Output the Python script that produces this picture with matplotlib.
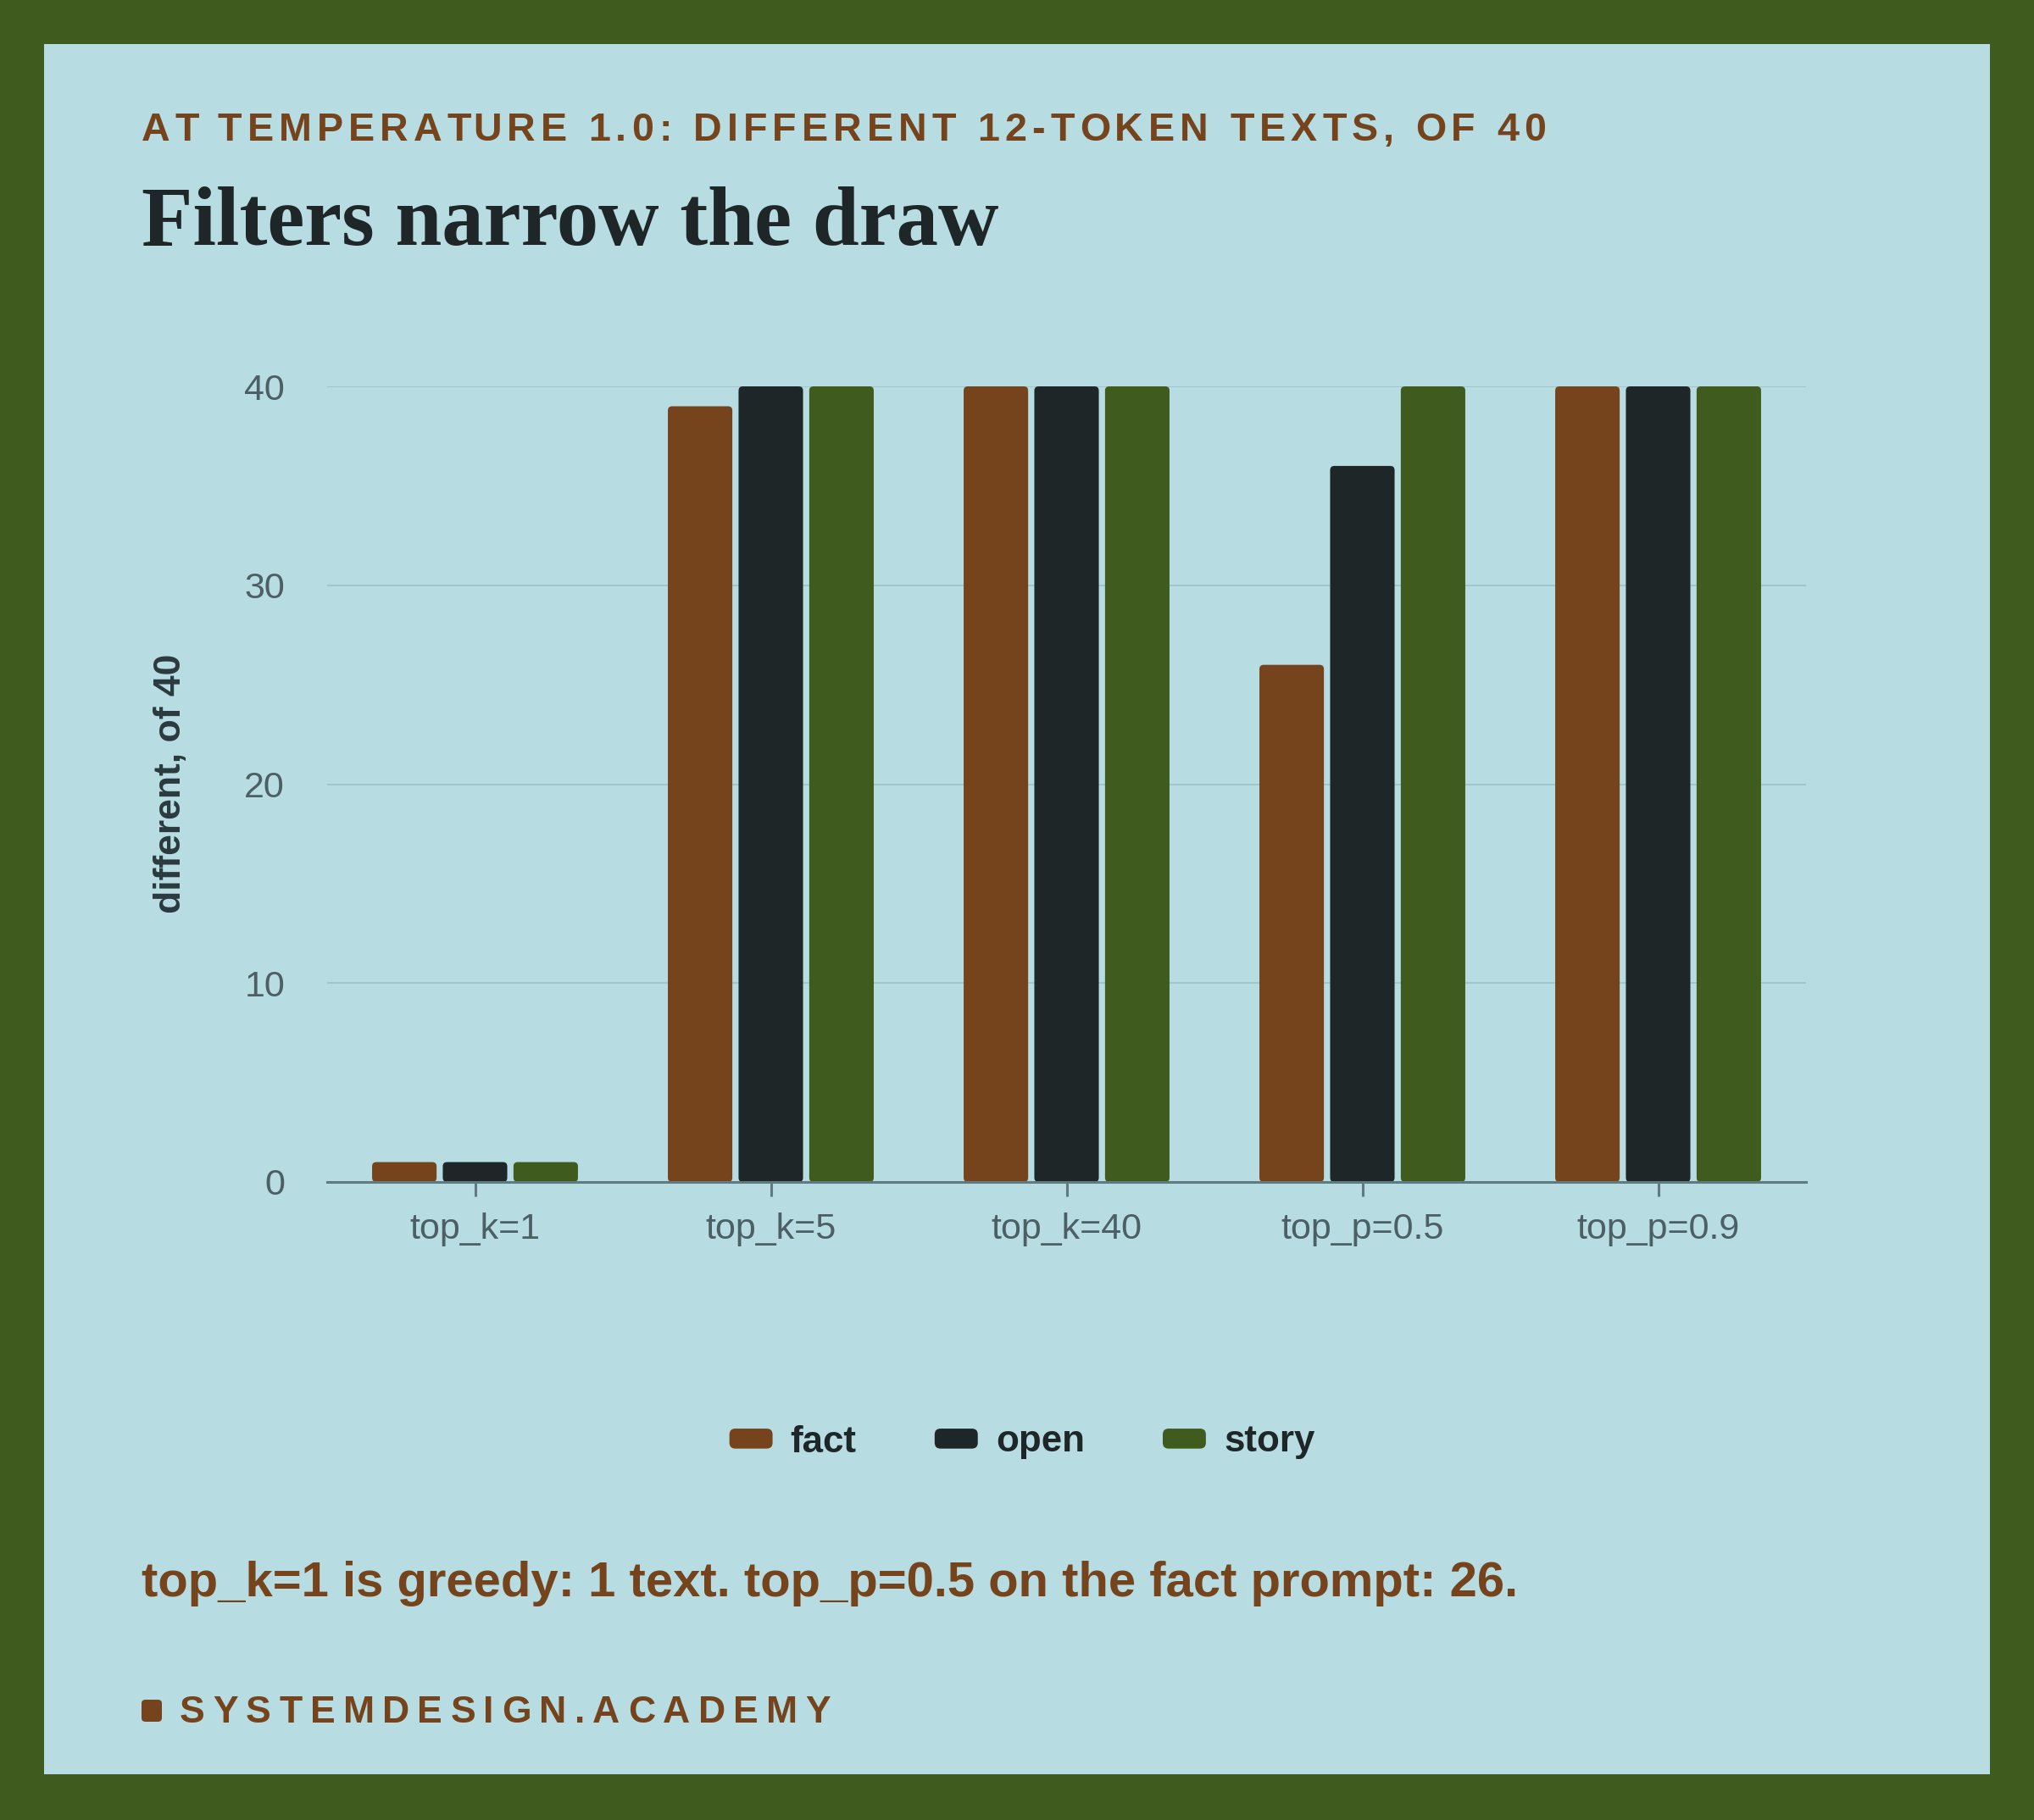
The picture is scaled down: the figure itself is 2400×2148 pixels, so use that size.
import matplotlib
matplotlib.use("Agg")
import matplotlib.pyplot as plt
from matplotlib.patches import FancyBboxPatch, Rectangle
from matplotlib.legend_handler import HandlerPatch
import numpy as np

# ---------------- data ----------------
categories = ["top_k=1", "top_k=5", "top_k=40", "top_p=0.5", "top_p=0.9"]
series_names = ["fact", "open", "story"]
fact_vals = [1, 39, 40, 26, 40]
open_vals = [1, 40, 40, 36, 40]
story_vals = [1, 40, 40, 40, 40]
y_ticks = [0, 10, 20, 30, 40]

subtitle = "AT TEMPERATURE 1.0: DIFFERENT 12-TOKEN TEXTS, OF 40"
title = "Filters narrow the draw"
ylabel = "different, of 40"
footnote = "top_k=1 is greedy: 1 text. top_p=0.5 on the fact prompt: 26."
brand = "SYSTEMDESIGN.ACADEMY"

# ---------------- style ----------------
BORDER = "#3F5B1D"
PANEL = "#B7DCE1"
BROWN = "#76441C"
DARK = "#1F2628"
GREEN = "#3F5B1D"
GRID = "#9BC2C8"
AXIS = "#5F7B81"
TICKC = "#4B5F64"
colors = [BROWN, DARK, GREEN]

W, H, DPI = 2400, 2148, 200
fig = plt.figure(figsize=(W / DPI, H / DPI), dpi=DPI)
fig.patch.set_facecolor(BORDER)

def fx(x):
    return x / W

def fy(y):
    return 1 - y / H

fig.patches.append(Rectangle((fx(52), fy(2094)), fx(2348) - fx(52), fy(52) - fy(2094),
                             transform=fig.transFigure, facecolor=PANEL, edgecolor="none", zorder=-5))

renderer = fig.canvas.get_renderer()

def text_w(s, **kw):
    t = fig.text(0, 0, s, **kw)
    w = t.get_window_extent(renderer).width
    t.remove()
    return w

def fit_size(s, target, size0, **kw):
    w = text_w(s, fontsize=size0, **kw)
    return size0 * target / w

def tracked_text(s, x0, y, target_w, size, **kw):
    bar = text_w("|", fontsize=size, **kw)
    plain = text_w(s, fontsize=size, **kw)
    track = (target_w - plain) / (len(s) - 1)
    for i, ch in enumerate(s):
        if ch == " ":
            continue
        pre = text_w(s[:i] + "|", fontsize=size, **kw) - bar if i > 0 else 0
        fig.text(fx(x0 + pre + i * track), fy(y), ch, fontsize=size, va="baseline", ha="left", **kw)

SANS = "Liberation Sans"
SERIF = "Liberation Serif"

# subtitle (letter-spaced)
tracked_text(subtitle, 167, 166, 1657, 16.8, family=SANS, weight="bold", color=BROWN)

# title
ts = fit_size(title, 1011, 36, family=SERIF, weight="bold")
fig.text(fx(167), fy(289), title, fontsize=ts, family=SERIF, weight="bold", color=DARK,
         va="baseline", ha="left")

# ---------------- axes ----------------
ax = fig.add_axes([fx(386), fy(1395), fx(2131) - fx(386), fy(456) - fy(1395)])
ax.set_facecolor("none")
ax.set_zorder(2)
x = np.arange(len(categories))
bw = 0.218
off = 0.239
ax.set_xlim(-0.5, len(categories) - 0.5)
ax.set_ylim(0, 40)

# px per unit for rounding aspect
px_x = (2131 - 386) / len(categories)
px_y = (1395 - 456) / 40.0
rad_px = 5
all_vals = [fact_vals, open_vals, story_vals]
for si, vals in enumerate(all_vals):
    bars = ax.bar(x + (si - 1) * off, vals, width=bw, color=colors[si], zorder=3)
    for b in bars:
        b.set_visible(False)
        fp = FancyBboxPatch((b.get_x(), b.get_y()), b.get_width(), b.get_height(),
                            boxstyle=f"round,pad=0,rounding_size={rad_px / px_x}",
                            mutation_aspect=px_x / px_y,
                            facecolor=colors[si], edgecolor="none", zorder=3, clip_on=False)
        ax.add_patch(fp)

ax.set_yticks(y_ticks)
ax.set_xticks(x)
ax.set_xticklabels(categories)
for sp in ["top", "right", "left"]:
    ax.spines[sp].set_visible(False)
ax.spines["bottom"].set_color(AXIS)
ax.spines["bottom"].set_linewidth(1.1)
ax.spines["bottom"].set_zorder(4)
ax.yaxis.grid(True, color=GRID, linewidth=0.6, zorder=1)
ax.set_axisbelow(True)
ax.tick_params(axis="y", length=0, pad=18, labelsize=15.5, labelcolor=TICKC)
ax.tick_params(axis="x", length=6, width=1.1, color=AXIS, pad=7, labelsize=15.5, labelcolor=TICKC)
for lab in ax.get_xticklabels() + ax.get_yticklabels():
    lab.set_family(SANS)

fig.text(fx(202), fy(925), ylabel, rotation=90, fontsize=16, family=SANS, weight="bold",
         color="#2B3A3E", ha="center", va="center")

# ---------------- legend ----------------
def round_patch(legend, orig_handle, xdescent, ydescent, width, height, fontsize):
    return FancyBboxPatch((-xdescent, -ydescent), width, height,
                          boxstyle="round,pad=0,rounding_size=2.5")

handles = [Rectangle((0, 0), 1, 1, facecolor=c, edgecolor="none") for c in colors]
leg = fig.legend(handles, series_names, loc="center", bbox_to_anchor=(fx(1206), fy(1702)),
                 ncol=3, frameon=False, handlelength=1.16, handleheight=0.45,
                 handletextpad=0.48, columnspacing=2.1,
                 prop={"family": SANS, "weight": "bold", "size": 15.8},
                 handler_map={Rectangle: HandlerPatch(patch_func=round_patch)})
for t in leg.get_texts():
    t.set_color(DARK)

# ---------------- footnote ----------------
fs = fit_size(footnote, 1622, 20, family=SANS, weight="bold")
fig.text(fx(167), fy(1884), footnote, fontsize=fs, family=SANS, weight="bold", color=BROWN,
         va="baseline", ha="left")

# brand
fig.patches.append(FancyBboxPatch((fx(167), fy(2032)), fx(191) - fx(167), fy(2006) - fy(2032),
                                  boxstyle="round,pad=0,rounding_size=0.002",
                                  transform=fig.transFigure, facecolor=BROWN, edgecolor="none", zorder=2))
tracked_text(brand, 212, 2033, 768, 16, family=SANS, weight="bold", color=BROWN)

fig.savefig("out.png", dpi=DPI, facecolor=fig.get_facecolor())
